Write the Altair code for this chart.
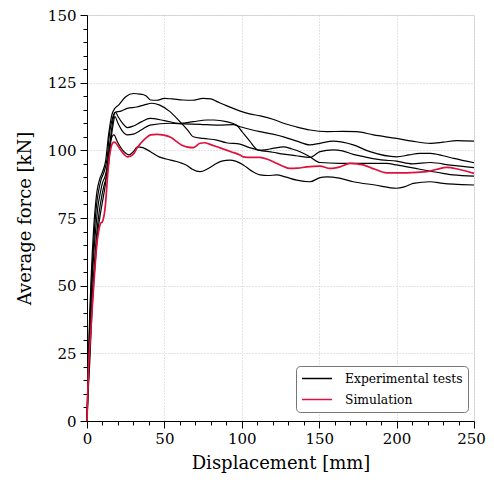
import altair as alt
import pandas as pd

# ---- data ----
exp_a_x = [0, 0.4, 1, 1.8, 2.6, 3.4, 4.4, 5.5, 6.5, 8, 10, 12, 14, 16, 18, 20, 25, 30, 34, 38, 41, 45, 50, 55, 62, 68, 75, 80, 84, 90, 99, 105, 112, 120, 127, 135, 144, 155, 165, 174, 185, 200, 210, 222, 230, 239, 250]
exp_a_y = [0, 12, 25, 40, 52, 62, 72, 80, 85, 89, 92, 96, 106, 113, 115.5, 116.5, 119.8, 121, 120.8, 120.2, 118.6, 118.5, 119.2, 119, 118.6, 118.5, 119.2, 119, 118, 116.5, 114.5, 113.5, 112.7, 111.5, 110, 108.7, 107.5, 106.9, 107, 106.9, 105.7, 104.4, 103.4, 102.6, 103, 103.6, 103.4]

exp_b_x = [0, 0.6, 1.4, 2.3, 3.3, 4.5, 5.8, 7, 8.5, 10, 12, 14, 15.5, 17, 18.5, 20, 23, 26, 30, 35, 40.7, 50, 60, 68.7, 77.3, 82, 90, 96.7, 100, 105, 110.7, 115, 120, 127, 132, 137.6, 144, 150.5, 163, 176, 193.6, 200, 215, 230, 236.6, 250]
exp_b_y = [0, 12, 25, 40, 52, 63, 72, 79, 84, 88, 91, 98, 106, 112, 114, 112.5, 110, 108.4, 109, 110.5, 111.8, 111, 110, 110.6, 111.2, 111.2, 110.6, 109.3, 107, 103.5, 100.1, 100.2, 100.7, 101.3, 100.6, 99.5, 97.6, 95.5, 95.2, 95.2, 95.2, 94.6, 93, 91.5, 90.9, 90.5]

exp_c_x = [0, 0.6, 1.5, 2.6, 3.8, 5, 6.4, 7.8, 9.5, 11, 12.5, 14, 15.5, 17, 18, 20, 23, 26, 30, 35, 40.7, 53.6, 62, 73, 85, 94.5, 98.8, 105, 111.8, 120, 127, 135, 144, 150.5, 159, 165, 172, 182.8, 200, 208, 215, 222, 230, 237, 250]
exp_c_y = [0, 10, 22, 38, 50, 60, 70, 77, 83, 87, 90, 95, 104, 110, 112.5, 110, 107, 105.7, 106, 107.5, 109.3, 110, 109.8, 109.6, 109.3, 109.5, 108.7, 107.8, 106.9, 106, 105, 103.5, 102, 102.6, 103.4, 103, 102, 99.5, 97.6, 98.3, 98.9, 98.9, 98, 97, 95.4]

exp_d_x = [0, 0.5, 1.2, 2, 3, 4, 5, 6.2, 7.5, 9, 11, 13, 14.5, 16.5, 18, 22, 26, 32, 37, 42, 47, 53.6, 60, 65, 68.7, 75, 83.8, 90, 98.8, 105, 110.7, 120, 127, 135, 144, 150.5, 159, 165, 172, 180, 190, 200, 210, 222, 235, 250]
exp_d_y = [0, 12, 25, 40, 52, 63, 72, 80, 85, 89, 92, 97, 106, 112, 114, 114.5, 115.5, 116, 116.8, 117.4, 116.7, 114.3, 110.6, 107.5, 105, 104.4, 103.8, 102.8, 102.3, 101, 100.1, 99.3, 98.6, 98, 97.4, 99.5, 100.2, 99.8, 98.5, 97.5, 96.5, 96, 95, 95.5, 94.5, 93.6]

exp_e_x = [0, 0.7, 1.8, 3, 4.2, 5.5, 7, 8.5, 10, 11.5, 12.8, 14.2, 15.5, 17.4, 19.6, 23.9, 27, 30, 32.5, 36, 41, 47, 54, 60, 64, 68, 73, 78, 82, 87, 92.4, 96, 101, 106, 111.8, 117, 122.5, 128, 135.5, 144, 150.5, 155, 163, 172, 186, 200, 205, 210.8, 221.6, 230, 236.6, 250]
exp_e_y = [0, 10, 22, 38, 50, 60, 70, 76, 81, 86, 92, 100, 104, 105.7, 103.2, 99.5, 98.3, 99.5, 101.3, 101, 99.5, 97.5, 96.4, 95.5, 94.6, 93, 92.1, 93.2, 94.6, 96, 96.4, 96, 94.6, 92.5, 90.9, 90.7, 90.9, 90.2, 89, 88.4, 89.9, 90.2, 89.7, 88.4, 87.2, 86, 86.5, 87.8, 88.4, 87.8, 87.5, 87.2]

sim_x = [0, 1, 2.4, 3.7, 5.2, 6.5, 7.5, 8.8, 9.9, 12, 13.1, 14.2, 15.5, 16.4, 17.9, 19.8, 21.8, 24, 26, 28, 30.4, 32.5, 34.7, 38, 41, 45, 49.7, 54, 58, 61, 64.4, 68.7, 73, 76, 79.5, 84, 88, 93, 98.8, 101, 106, 111.8, 117, 122.5, 127, 131, 136, 142, 150.5, 157, 163.4, 170, 178.5, 186, 193.6, 206.5, 219.4, 226, 232.4, 240, 250]
sim_y = [0, 20, 32.4, 44.7, 57, 66, 70, 73, 73.6, 80.4, 89, 96.4, 101, 102.6, 103, 101.8, 100.1, 98.5, 97.6, 97.8, 98.9, 101, 102.6, 104.5, 105.7, 105.9, 105.6, 104.8, 103.2, 102, 101.3, 101, 102.6, 102.8, 102.2, 101.3, 100.5, 99.5, 98.3, 97.6, 97.4, 97.4, 96.6, 95.2, 94, 93.3, 93.4, 93.9, 94.2, 93.3, 93.9, 95.2, 94.6, 93, 91.7, 91.7, 92.1, 93, 93.7, 93, 91.5]

x_major = [0, 50, 100, 150, 200, 250]
x_minor = [v for v in range(0, 251, 10) if v % 50 != 0]
y_major = [0, 25, 50, 75, 100, 125, 150]
y_minor = [v for v in range(0, 151, 5) if v % 25 != 0]

EXP = "Experimental tests"
SIM = "Simulation"

rows = []
for name, xs_, ys_ in [("a", exp_a_x, exp_a_y), ("b", exp_b_x, exp_b_y), ("c", exp_c_x, exp_c_y),
                       ("d", exp_d_x, exp_d_y), ("e", exp_e_x, exp_e_y)]:
    for i, (xv, yv) in enumerate(zip(xs_, ys_)):
        rows.append({"x": xv, "y": yv, "series": name, "kind": EXP, "i": i})
exp_df = pd.DataFrame(rows)
sim_df = pd.DataFrame({"x": sim_x, "y": sim_y, "series": "sim", "kind": SIM, "i": range(len(sim_x))})

FONT = "DejaVu Serif"
xs = alt.Scale(domain=[0, 250], nice=False, zero=False)
ys = alt.Scale(domain=[0, 150], nice=False, zero=False)
color = alt.Color("kind:N", scale=alt.Scale(domain=[EXP, SIM], range=["#000000", "#e0103c"]),
                  legend=alt.Legend(title=None, orient="none", legendX=209, legendY=351,
                                    symbolType="stroke", symbolSize=900, symbolStrokeWidth=1.5,
                                    clipHeight=15, rowPadding=6,
                                    labelFont=FONT, labelFontSize=12.3, labelColor="black",
                                    strokeColor="#777777", fillColor="white", cornerRadius=4,
                                    padding=5, labelOffset=12, symbolOffset=0))

xaxis = alt.Axis(values=x_major, title="Displacement [mm]", labelFont=FONT, labelFontSize=15,
                 titleFont=FONT, titleFontSize=18, titleFontWeight="normal", titleColor="black",
                 labelColor="black", tickColor="black", domainColor="black", tickSize=7,
                 labelPadding=3, titlePadding=8, gridDash=[1, 2], gridColor="#c8c8c8",
                 labelFlush=False, labelOverlap=False,
                 labelOffset={"condition": {"test": "datum.value === 250", "value": -3}, "value": 0})
yaxis = alt.Axis(values=y_major, title="Average force [kN]", labelFont=FONT, labelFontSize=15,
                 titleFont=FONT, titleFontSize=18, titleFontWeight="normal", titleColor="black",
                 labelColor="black", tickColor="black", domainColor="black", tickSize=7,
                 labelPadding=4, titlePadding=13, gridDash=[1, 2], gridColor="#c8c8c8",
                 labelFlush=False, labelOverlap=False)

exp_layer = alt.Chart(exp_df).mark_line(strokeWidth=1.2, interpolate="monotone").encode(
    x=alt.X("x:Q", scale=xs, axis=xaxis),
    y=alt.Y("y:Q", scale=ys, axis=yaxis),
    color=color,
    detail="series:N",
    order="i:Q",
)
sim_layer = alt.Chart(sim_df).mark_line(strokeWidth=1.7, interpolate="monotone").encode(
    x=alt.X("x:Q", scale=xs, axis=None),
    y=alt.Y("y:Q", scale=ys, axis=None),
    color=color,
    order="i:Q",
)

minor_x = alt.Chart(pd.DataFrame({"x": [0]})).mark_point(opacity=0).encode(
    x=alt.X("x:Q", scale=xs, axis=alt.Axis(values=x_minor, orient="bottom", labels=False, title=None,
                                          grid=False, domain=False, tickSize=4, tickColor="black")),
)
minor_y = alt.Chart(pd.DataFrame({"y": [0]})).mark_point(opacity=0).encode(
    y=alt.Y("y:Q", scale=ys, axis=alt.Axis(values=y_minor, orient="left", labels=False, title=None,
                                          grid=False, domain=False, tickSize=4, tickColor="black")),
)

chart = alt.layer(exp_layer, sim_layer, minor_x, minor_y).resolve_axis(
    x="independent", y="independent"
).properties(
    width=387, height=406,
    padding={"left": 79, "top": 7, "right": 12, "bottom": 57},
    autosize=alt.AutoSizeParams(type="none"),
).configure_view(stroke="black", strokeWidth=1).configure(background="white")

chart.save("out.html", embed_options={"renderer": "svg", "actions": False})
